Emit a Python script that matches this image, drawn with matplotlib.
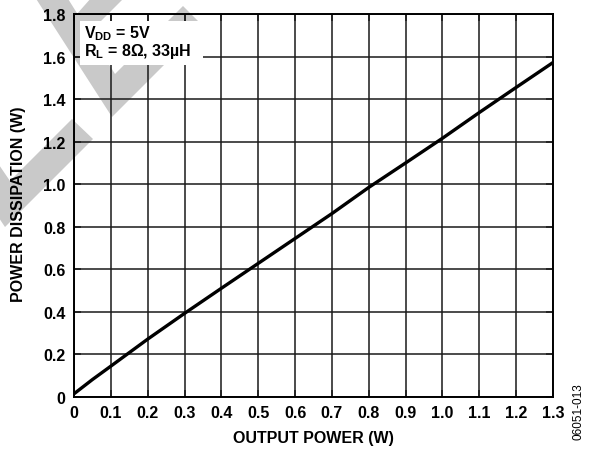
import matplotlib
matplotlib.use("Agg")
import matplotlib.pyplot as plt
from matplotlib.patches import Polygon, Rectangle

# Curve data: power dissipation vs. output power
output_power = [0.0, 0.05, 0.1, 0.2, 0.3, 0.4, 0.5, 0.6, 0.7, 0.8, 0.9, 1.0, 1.1, 1.2, 1.3]
power_dissipation = [0.015, 0.082, 0.145, 0.272, 0.393, 0.511, 0.628, 0.745,
                     0.862, 0.985, 1.100, 1.216, 1.337, 1.455, 1.572]

x_ticks = [0.0, 0.1, 0.2, 0.3, 0.4, 0.5, 0.6, 0.7, 0.8, 0.9, 1.0, 1.1, 1.2, 1.3]
x_tick_labels = ["0", "0.1", "0.2", "0.3", "0.4", "0.5", "0.6", "0.7", "0.8",
                 "0.9", "1.0", "1.1", "1.2", "1.3"]
y_ticks = [0.0, 0.2, 0.4, 0.6, 0.8, 1.0, 1.2, 1.4, 1.6, 1.8]
y_tick_labels = ["0", "0.2", "0.4", "0.6", "0.8", "1.0", "1.2", "1.4", "1.6", "1.8"]

plt.rcParams["font.family"] = ["Liberation Sans", "DejaVu Sans"]
plt.rcParams["mathtext.fontset"] = "custom"
plt.rcParams["mathtext.rm"] = "Liberation Sans"
plt.rcParams["mathtext.bf"] = "Liberation Sans:bold"

W, H = 591, 456
fig = plt.figure(figsize=(W / 100, H / 100), dpi=100)
fig.patch.set_facecolor("white")

ax = fig.add_axes([74 / W, 1 - 398 / H, (553 - 74) / W, (398 - 15) / H])
ax.patch.set_visible(False)


# Light grey check-mark background artwork (figure pixel coordinates)
def px(points):
    return [(x / W, 1 - y / H) for x, y in points]


mark_color = "#c9c9c9"
shapes = [
    [(33, -5), (65, -5), (115, 75), (183, 7), (203, 27), (112, 118)],
    [(92, -2), (125, -2), (88, 35), (76, 16)],
    [(-5, 160), (10, 182), (72, 120), (93, 140), (5, 228), (-5, 213)],
]
for s in shapes:
    ax.add_patch(Polygon(px(s), closed=True, transform=fig.transFigure,
                         facecolor=mark_color, edgecolor="none", zorder=0.5,
                         clip_on=False))

grid_kw = dict(color="#1a1a1a", linewidth=1.1)
ax.set_xlim(0, 1.3)
ax.set_ylim(0, 1.8)
ax.set_xticks(x_ticks)
ax.set_xticklabels(x_tick_labels)
ax.set_yticks(y_ticks)
ax.set_yticklabels(y_tick_labels)
ax.grid(True, **grid_kw)
ax.tick_params(direction="in", length=5, width=1.1, color="#1a1a1a",
               top=True, right=True, labelsize=11.5, pad=6)
for lab in ax.get_xticklabels() + ax.get_yticklabels():
    lab.set_fontweight("bold")
for sp in ax.spines.values():
    sp.set_linewidth(1.4)
    sp.set_color("black")

ax.plot(output_power, power_dissipation, color="black", linewidth=2.4,
        solid_capstyle="butt", zorder=4)

# Condition legend on a white panel
ax.add_patch(Rectangle((0.0125, 0.867), 0.257, 0.115, transform=ax.transAxes,
                       facecolor="white", edgecolor="none", zorder=3))
ax.text(0.021, 0.940, r"$\mathbf{V_{DD}}$ = 5V", transform=ax.transAxes,
        fontsize=11.5, fontweight="bold", ha="left", va="baseline", zorder=5)
ax.text(0.021, 0.893, r"$\mathbf{R_{L}}$ = 8Ω, 33µH", transform=ax.transAxes,
        fontsize=11.5, fontweight="bold", ha="left", va="baseline", zorder=5)

fig.text(313.5 / W, 1 - 443 / H, "OUTPUT POWER (W)", fontsize=11.5,
         fontweight="bold", ha="center", va="baseline")
fig.text(19 / W, 1 - 204 / H, "POWER DISSIPATION (W)", fontsize=11.5,
         fontweight="bold", ha="center", va="center", rotation=90)
fig.text(579 / W, 1 - 412 / H, "06051-013", fontsize=8.5,
         ha="center", va="center", rotation=90)

fig.savefig("out.png", dpi=100, facecolor="white")
